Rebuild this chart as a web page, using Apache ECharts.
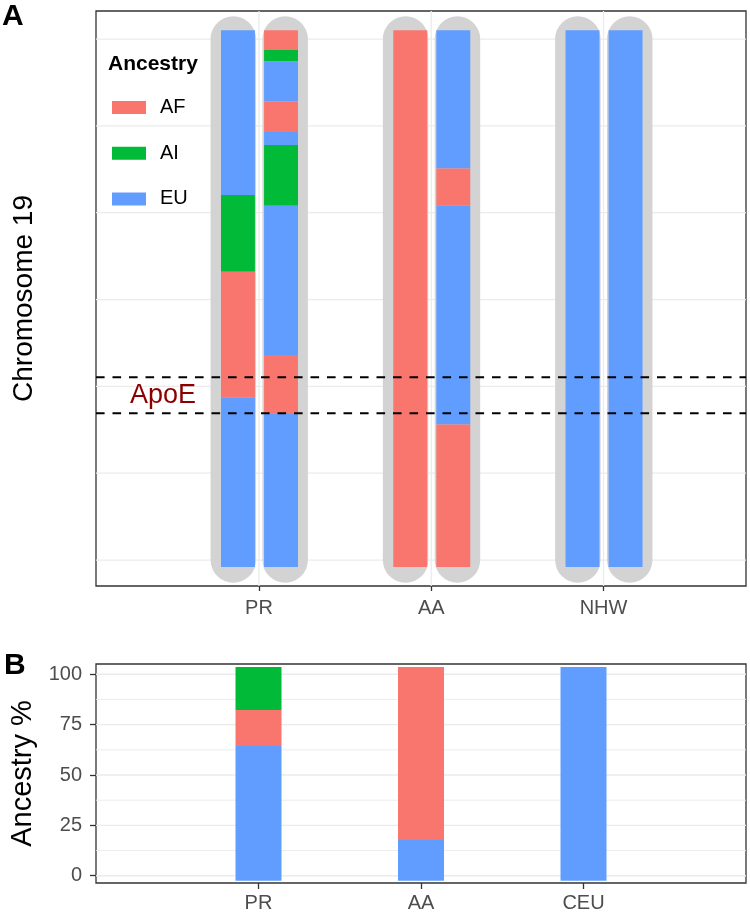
<!DOCTYPE html>
<html>
<head>
<meta charset="utf-8">
<script src="https://cdn.jsdelivr.net/npm/echarts@6/dist/echarts.min.js"></script>
<style>
html,body{margin:0;padding:0;background:#fff;}
#chart{width:750px;height:915px;}
</style>
</head>
<body>
<div id="chart"></div>
<script>
// ---------------- DATA ----------------
const ancestries = ['AF', 'AI', 'EU'];

// Panel A: local ancestry along chromosome 19 (two haplotypes per group)
const groupsA = ['PR', 'AA', 'NHW'];
const prHap1Breaks = [61.0, 42.05, 33.2, 18.7, -0.8];
const prHap1Anc = ['EU', 'AI', 'AF', 'EU'];
const prHap2Breaks = [61.0, 58.75, 57.4, 52.8, 49.3, 47.8, 40.8, 23.6, 16.9, -0.8];
const prHap2Anc = ['AF', 'AI', 'EU', 'AF', 'EU', 'AI', 'EU', 'AF', 'EU'];
const aaHap1Breaks = [61.0, -0.8];
const aaHap1Anc = ['AF'];
const aaHap2Breaks = [61.0, 45.1, 40.8, 15.6, -0.8];
const aaHap2Anc = ['EU', 'AF', 'EU', 'AF'];
const nhwHap1Breaks = [61.0, -0.8];
const nhwHap1Anc = ['EU'];
const nhwHap2Breaks = [61.0, -0.8];
const nhwHap2Anc = ['EU'];
const chromBody = [0, 60];
const apoeRegion = [21.05, 16.9];
const gridValuesA = [0, 10, 20, 30, 40, 50, 60];

// Panel B: global ancestry %
const groupsB = ['PR', 'AA', 'CEU'];
const barBase = -2.5;
const euTop = [64.4, 17.7, 103.6];
const afTop = [82.3, 103.6, 103.6];
const aiTop = [103.6, 103.6, 103.6];
const tickValuesB = [0, 25, 50, 75, 100];
const gridValuesB = [0, 12.5, 25, 37.5, 50, 62.5, 75, 87.5, 100];

// ---------------- STYLE ----------------
const FONT = '"Liberation Sans", Arial, Helvetica, sans-serif';
const ancColors = ['#F8766D', '#00BA38', '#619CFF'];
const chromGray = '#D3D3D3';
const gridColor = '#EBEBEB';
const hapColorOffset = [-0.122, 0.128];
const hapGrayOffset = [-0.149, 0.152];
const colorWidth = 0.197;
const grayWidth = 0.264;
const barWidthB = 0.283;

// ---------------- BUILD ----------------
const haps = [
  [0, 0, prHap1Breaks, prHap1Anc], [0, 1, prHap2Breaks, prHap2Anc],
  [1, 0, aaHap1Breaks, aaHap1Anc], [1, 1, aaHap2Breaks, aaHap2Anc],
  [2, 0, nhwHap1Breaks, nhwHap1Anc], [2, 1, nhwHap2Breaks, nhwHap2Anc]
];
const segData = [];
const grayData = [];
haps.forEach(([g, s, br, an]) => {
  grayData.push([g + 1 + hapGrayOffset[s], chromBody[1], chromBody[0]]);
  for (let i = 0; i < an.length; i++) {
    segData.push([g + 1 + hapColorOffset[s], br[i], br[i + 1], ancestries.indexOf(an[i])]);
  }
});

const barData = [];
groupsB.forEach((g, i) => {
  barData.push([i + 1, barBase, euTop[i], 2]);
  if (afTop[i] > euTop[i]) barData.push([i + 1, euTop[i], afTop[i], 0]);
  if (aiTop[i] > afTop[i]) barData.push([i + 1, afTop[i], aiTop[i], 1]);
});

const gridLinesA = gridValuesA.map(v => [0, v, 1.3]).concat([1, 2, 3].map(v => [1, v, 1.3]));
const gridLinesB = gridValuesB.map(v => [0, v, (v % 25 === 0) ? 1.4 : 0.9]);

function gridRender(params, api) {
  const cs = params.coordSys;
  const o = api.value(0), v = api.value(1), w = api.value(2);
  if (o === 0) {
    const yy = api.coord([1, v])[1];
    return {type: 'line', shape: {x1: cs.x, y1: yy, x2: cs.x + cs.width, y2: yy},
      style: {stroke: gridColor, lineWidth: w}};
  }
  const x = api.coord([v, 0])[0];
  return {type: 'line', shape: {x1: x, y1: cs.y, x2: x, y2: cs.y + cs.height},
    style: {stroke: gridColor, lineWidth: w}};
}

function rectRender(width, fillFn, rounded) {
  return function (params, api) {
    const x = api.value(0);
    const a = api.coord([x, api.value(1)]);
    const b = api.coord([x, api.value(2)]);
    const w = api.size([width, 0])[0];
    let y0 = Math.min(a[1], b[1]), h = Math.abs(b[1] - a[1]);
    const shape = {x: a[0] - w / 2, y: y0, width: w, height: h};
    if (rounded) { shape.y = y0 - w / 2; shape.height = h + w; shape.r = w / 2; }
    return {type: 'rect', shape: shape, style: {fill: fillFn(api)}};
  };
}

function dashRender(params, api) {
  const cs = params.coordSys;
  const y = api.coord([1, api.value(0)])[1];
  return {type: 'line', shape: {x1: cs.x, y1: y, x2: cs.x + cs.width, y2: y},
    style: {stroke: '#000', lineWidth: 2, lineDash: [8.6, 7.9]}};
}

const option = {
  animation: false,
  backgroundColor: '#fff',
  textStyle: {fontFamily: FONT},
  title: [
    {text: 'A', left: 2, top: 2, padding: 0, textStyle: {fontSize: 30, fontWeight: 'bold', color: '#000', fontFamily: FONT}},
    {text: 'B', left: 4, top: 651, padding: 0, textStyle: {fontSize: 30, fontWeight: 'bold', color: '#000', fontFamily: FONT}},
    {text: 'Ancestry', left: 108, top: 54, padding: 0, textStyle: {fontSize: 21, fontWeight: 'bold', color: '#000', fontFamily: FONT}}
  ],
  legend: {
    data: ancestries,
    orient: 'vertical',
    left: 112, top: 95.5, padding: 0,
    itemWidth: 34, itemHeight: 13, itemGap: 21.7,
    icon: 'rect',
    selectedMode: false,
    textStyle: {fontSize: 20, color: '#000', fontFamily: FONT, lineHeight: 20, padding: [4, 0, 0, 9]}
  },
  grid: [
    {left: 96, right: 4, top: 11, bottom: 329, show: true, borderColor: '#333', borderWidth: 1.3, backgroundColor: 'transparent'},
    {left: 96, right: 4, top: 664, bottom: 32, show: true, borderColor: '#333', borderWidth: 1.3, backgroundColor: 'transparent'}
  ],
  xAxis: [
    {type: 'value', gridIndex: 0, min: 0.054, max: 3.827, position: 'bottom',
      splitLine: {show: false}, axisLine: {show: false, onZero: false},
      axisTick: {show: true, customValues: [1, 2, 3], length: 5, lineStyle: {color: '#333', width: 1.3}},
      axisLabel: {customValues: [1, 2, 3], formatter: v => groupsA[Math.round(v) - 1], fontSize: 20, color: '#4D4D4D', margin: 12, fontFamily: FONT}},
    {type: 'value', gridIndex: 1, min: 0, max: 4, position: 'bottom',
      splitLine: {show: false}, axisLine: {show: false, onZero: false},
      axisTick: {show: true, customValues: [1, 2, 3], length: 6, lineStyle: {color: '#333', width: 1.3}},
      axisLabel: {customValues: [1, 2, 3], formatter: v => groupsB[Math.round(v) - 1], fontSize: 20, color: '#4D4D4D', margin: 10, fontFamily: FONT}}
  ],
  yAxis: [
    {type: 'value', gridIndex: 0, min: -2.99, max: 63.23, position: 'left',
      splitLine: {show: false}, axisLine: {show: false, onZero: false}, axisTick: {show: false}, axisLabel: {show: false},
      name: 'Chromosome 19', nameLocation: 'middle', nameRotate: 90, nameGap: 58,
      nameTextStyle: {fontSize: 28, color: '#000', fontFamily: FONT}},
    {type: 'value', gridIndex: 1, min: -3.6, max: 105.1, position: 'left',
      splitLine: {show: false}, axisLine: {show: false, onZero: false},
      axisTick: {show: true, customValues: tickValuesB, length: 6, lineStyle: {color: '#333', width: 1.3}},
      axisLabel: {customValues: tickValuesB, fontSize: 20, color: '#4D4D4D', margin: 14, fontFamily: FONT},
      name: 'Ancestry %', nameLocation: 'middle', nameRotate: 90, nameGap: 56,
      nameTextStyle: {fontSize: 29, color: '#000', fontFamily: FONT}}
  ],
  series: [
    {type: 'custom', name: 'gridA', xAxisIndex: 0, yAxisIndex: 0, z: 0, silent: true,
      renderItem: gridRender, data: gridLinesA},
    {type: 'custom', name: 'gridB', xAxisIndex: 1, yAxisIndex: 1, z: 0, silent: true,
      renderItem: gridRender, data: gridLinesB},
    {type: 'custom', name: 'chromosome', xAxisIndex: 0, yAxisIndex: 0, z: 1, silent: true,
      renderItem: rectRender(grayWidth, () => chromGray, true), data: grayData},
    {type: 'custom', name: 'segments', xAxisIndex: 0, yAxisIndex: 0, z: 2, silent: true,
      renderItem: rectRender(colorWidth, api => ancColors[api.value(3)], false), data: segData},
    {type: 'custom', name: 'apoe', xAxisIndex: 0, yAxisIndex: 0, z: 3, silent: true,
      renderItem: dashRender, data: apoeRegion.map(v => [v])},
    {type: 'custom', name: 'apoeLabel', xAxisIndex: 0, yAxisIndex: 0, z: 4, silent: true,
      renderItem: function (params, api) {
        const p = api.coord([api.value(0), api.value(1)]);
        return {type: 'text', x: p[0], y: p[1], style: {text: 'ApoE', fill: '#8B0000', fontSize: 27, fontFamily: FONT, align: 'center', verticalAlign: 'middle'}};
      },
      data: [[0.443, 18.9]]},
    {type: 'custom', name: 'bars', xAxisIndex: 1, yAxisIndex: 1, z: 2, silent: true,
      renderItem: rectRender(barWidthB, api => ancColors[api.value(3)], false), data: barData},
    {type: 'bar', name: 'AF', xAxisIndex: 0, yAxisIndex: 0, data: [], itemStyle: {color: ancColors[0]}},
    {type: 'bar', name: 'AI', xAxisIndex: 0, yAxisIndex: 0, data: [], itemStyle: {color: ancColors[1]}},
    {type: 'bar', name: 'EU', xAxisIndex: 0, yAxisIndex: 0, data: [], itemStyle: {color: ancColors[2]}}
  ]
};

const chart = echarts.init(document.getElementById('chart'), null, {renderer: 'canvas'});
chart.setOption(option);
</script>
</body>
</html>
